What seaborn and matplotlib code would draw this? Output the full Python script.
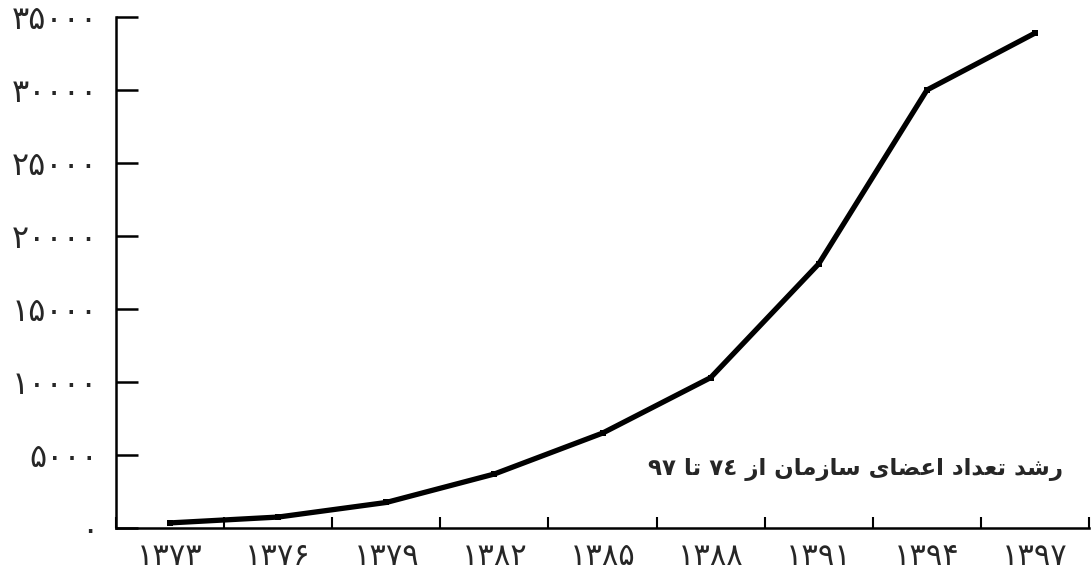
import matplotlib
matplotlib.use("Agg")
import matplotlib.pyplot as plt
import numpy as np
import pandas as pd
import seaborn as sns

years = ["۱۳۷۳", "۱۳۷۶", "۱۳۷۹", "۱۳۸۲", "۱۳۸۵", "۱۳۸۸", "۱۳۹۱", "۱۳۹۴", "۱۳۹۷"]
members = [350, 750, 1750, 3700, 6500, 10300, 18100, 30000, 33900]
y_ticks = [0, 5000, 10000, 15000, 20000, 25000, 30000, 35000]
y_labels = ["۰", "۵۰۰۰", "۱۰۰۰۰", "۱۵۰۰۰", "۲۰۰۰۰", "۲۵۰۰۰", "۳۰۰۰۰", "۳۵۰۰۰"]
title = "رشد تعداد اعضای سازمان از ٧٤ تا ٩٧"

# presentation forms: isolated, final, initial, medial
FORMS = {
    "ا": ("\uFE8D", "\uFE8E", None, None),
    "ت": ("\uFE95", "\uFE96", "\uFE97", "\uFE98"),
    "د": ("\uFEA9", "\uFEAA", None, None),
    "ر": ("\uFEAD", "\uFEAE", None, None),
    "ز": ("\uFEAF", "\uFEB0", None, None),
    "س": ("\uFEB1", "\uFEB2", "\uFEB3", "\uFEB4"),
    "ش": ("\uFEB5", "\uFEB6", "\uFEB7", "\uFEB8"),
    "ض": ("\uFEBD", "\uFEBE", "\uFEBF", "\uFEC0"),
    "ع": ("\uFEC9", "\uFECA", "\uFECB", "\uFECC"),
    "م": ("\uFEE1", "\uFEE2", "\uFEE3", "\uFEE4"),
    "ن": ("\uFEE5", "\uFEE6", "\uFEE7", "\uFEE8"),
    "ی": ("\uFBFC", "\uFBFD", "\uFBFE", "\uFBFF"),
}


def shape_word(word):
    out = []
    for i, ch in enumerate(word):
        if ch not in FORMS:
            out.append(ch)
            continue
        prev = word[i - 1] if i > 0 else None
        nxt = word[i + 1] if i + 1 < len(word) else None
        joins_prev = prev in FORMS and FORMS[prev][2] is not None
        joins_next = FORMS[ch][2] is not None and nxt in FORMS
        iso, fin, ini, med = FORMS[ch]
        if joins_prev and joins_next:
            out.append(med)
        elif joins_prev:
            out.append(fin)
        elif joins_next:
            out.append(ini)
        else:
            out.append(iso)
    return "".join(out)


def rtl(text):
    words = text.split(" ")
    visual = []
    for w in reversed(words):
        if w.isdigit():
            visual.append(w)
        else:
            visual.append(shape_word(w)[::-1])
    return " ".join(visual)


df = pd.DataFrame({"pos": np.arange(len(years)), "members": members})

sns.set_style("white")
plt.rcParams["font.family"] = ["DejaVu Sans"]

fig = plt.figure(figsize=(10.91, 5.78), dpi=100)
ax = fig.add_axes([0.1063, 0.0865, 0.892, 0.8841])

sns.lineplot(data=df, x="pos", y="members", ax=ax, color="black", linewidth=3.8,
             marker="s", markersize=4.5, markeredgewidth=0, markerfacecolor="black")

ax.set_xlim(-0.5, len(years) - 0.5)
ax.set_ylim(0, 35000)
ax.set_xlabel("")
ax.set_ylabel("")

# ticks at category boundaries, labels at category centers
ax.set_xticks(np.arange(len(years) + 1) - 0.5)
ax.set_xticklabels([])
ax.set_xticks(np.arange(len(years)), minor=True)
ax.set_xticklabels(years, minor=True, fontsize=22)
ax.tick_params(axis="x", which="major", bottom=True, direction="in", length=8,
               width=1.5, color="black")
ax.tick_params(axis="x", which="minor", bottom=True, length=0, pad=10)

ax.set_yticks(y_ticks)
ax.set_yticklabels(y_labels, fontsize=23)
ax.tick_params(axis="y", left=True, direction="in", length=16, width=1.8,
               color="black", pad=13)

for side in ["top", "right"]:
    ax.spines[side].set_visible(False)
for side in ["left", "bottom"]:
    ax.spines[side].set_color("black")
    ax.spines[side].set_linewidth(1.8)

fig.text(0.974, 0.187, rtl(title), ha="right", va="center", fontsize=16.5, fontweight="bold")

fig.savefig("out.png", dpi=100)
